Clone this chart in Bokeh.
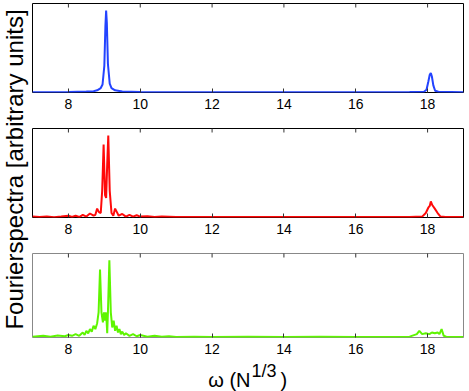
import math
from bokeh.plotting import figure
from bokeh.layouts import row, column
from bokeh.models import LinearAxis, Range1d, FixedTicker, Label
from bokeh.embed import file_html
from bokeh.resources import INLINE

omega_blue = [7.0, 8.0, 8.5, 8.7, 8.8, 8.9, 8.95, 9.0, 9.03, 9.05, 9.07, 9.1, 9.15, 9.2, 9.3, 9.5,
              10.0, 12.0, 15.0, 17.5, 17.9, 17.97, 18.02, 18.06, 18.09, 18.12, 18.16, 18.21, 18.3, 19.0]
blue = [0.004, 0.006, 0.01, 0.015, 0.025, 0.05, 0.09, 0.3, 0.75, 0.92, 0.78, 0.32, 0.1, 0.05, 0.025, 0.012,
        0.006, 0.004, 0.004, 0.005, 0.008, 0.03, 0.12, 0.2, 0.22, 0.18, 0.08, 0.02, 0.008, 0.004]

omega_red = [7.0, 7.2, 7.4, 7.6, 7.8, 8.0, 8.1, 8.2, 8.3, 8.4, 8.5, 8.6, 8.7, 8.75, 8.8, 8.85, 8.9, 8.94,
             8.98, 9.02, 9.05, 9.08, 9.11, 9.15, 9.2, 9.25, 9.3, 9.35, 9.4, 9.5, 9.6, 9.7, 9.8, 9.9, 10.0,
             10.2, 10.4, 10.6, 11.0, 12.0, 14.0, 16.0, 17.5, 17.85, 17.95, 18.02, 18.06, 18.09, 18.13, 18.2,
             18.28, 18.36, 18.5, 19.0]
red = [0.01, 0.005, 0.012, 0.004, 0.01, 0.02, 0.005, 0.02, 0.005, 0.03, 0.01, 0.045, 0.02, 0.03, 0.1, 0.06,
       0.05, 0.3, 0.82, 0.25, 0.22, 0.6, 0.92, 0.3, 0.05, 0.02, 0.1, 0.06, 0.02, 0.04, 0.01, 0.03, 0.01, 0.025,
       0.01, 0.015, 0.005, 0.01, 0.005, 0.005, 0.005, 0.005, 0.005, 0.01, 0.05, 0.11, 0.13, 0.18, 0.14, 0.1,
       0.05, 0.01, 0.005, 0.005]

omega_green = [7.0, 7.3, 7.5, 7.7, 7.9, 8.0, 8.1, 8.2, 8.3, 8.4, 8.45, 8.5, 8.55, 8.6, 8.65, 8.7, 8.75, 8.8,
               8.84, 8.88, 8.92, 8.96, 8.99, 9.02, 9.04, 9.06, 9.08, 9.1, 9.14, 9.18, 9.22, 9.26, 9.3, 9.34,
               9.38, 9.42, 9.46, 9.5, 9.55, 9.6, 9.7, 9.8, 9.9, 10.0, 10.2, 10.4, 10.6, 10.8, 11.0, 11.5, 12.0,
               13.0, 14.0, 15.0, 16.0, 17.0, 17.5, 17.7, 17.77, 17.85, 17.95, 18.05, 18.12, 18.2, 18.28, 18.33,
               18.39, 18.45, 18.52, 18.7, 19.0]
green = [0.01, 0.02, 0.01, 0.025, 0.015, 0.03, 0.02, 0.04, 0.02, 0.06, 0.03, 0.08, 0.05, 0.1, 0.07, 0.14, 0.1,
         0.17, 0.3, 0.81, 0.3, 0.18, 0.3, 0.2, 0.3, 0.22, 0.05, 0.3, 0.92, 0.3, 0.12, 0.2, 0.08, 0.14, 0.06, 0.1,
         0.04, 0.07, 0.03, 0.05, 0.02, 0.04, 0.015, 0.03, 0.01, 0.02, 0.008, 0.015, 0.005, 0.01, 0.005, 0.01,
         0.005, 0.008, 0.005, 0.005, 0.01, 0.04, 0.08, 0.04, 0.05, 0.04, 0.06, 0.05, 0.06, 0.04, 0.1, 0.02, 0.01,
         0.005, 0.005]

x_ticks = [8, 10, 12, 14, 16, 18]
y_label = "Fourierspectra [arbitrary units]"
x_label_main = "ω (N"
x_label_sup = "1/3"
x_label_end = ")"
FONT = "Liberation Sans"
FRAME_W = 431


def panel(xs, ys, color, frame_h, border_top, border_bottom, outline="black"):
    p = figure(frame_width=FRAME_W, frame_height=frame_h, x_range=Range1d(7, 19), y_range=Range1d(0, 1),
               output_backend="svg", toolbar_location=None, x_axis_location=None, y_axis_location=None,
               min_border_left=0, min_border_right=2, min_border_top=border_top,
               min_border_bottom=border_bottom)
    p.grid.visible = False
    p.outline_line_color = outline
    p.outline_line_width = 1
    p.background_fill_color = "white"
    p.border_fill_color = "white"
    ax = LinearAxis(ticker=FixedTicker(ticks=x_ticks))
    ax.major_tick_in = 4
    ax.major_tick_out = 0
    ax.minor_tick_line_color = None
    ax.axis_line_color = None
    ax.major_tick_line_color = "#333333"
    ax.major_label_text_font_size = "14px"
    ax.major_label_text_font = FONT
    ax.major_label_text_color = "black"
    ax.major_label_standoff = 6
    p.add_layout(ax, "below")
    # inward ticks on the top edge (Matlab box style)
    p.scatter(x=x_ticks, y=[1] * len(x_ticks), marker="dash", angle=math.pi / 2, size=8,
              line_color="#333333", line_width=1)
    p.line(xs, ys, line_color=color, line_width=2)
    return p


f1 = panel(omega_blue, blue, "#2343ff", 89, 3, 34)
f2 = panel(omega_red, red, "#ff0a0a", 89, 2, 34)
f3 = panel(omega_green, green, "#5ef500", 84, 2, 23, outline="#888888")

xl = figure(width=FRAME_W + 2, height=32, x_range=Range1d(7, 19), y_range=Range1d(0, 32),
            output_backend="svg", toolbar_location=None, x_axis_location=None, y_axis_location=None,
            min_border=0)
xl.outline_line_color = None
xl.grid.visible = False
xl.add_layout(Label(x=218, y=13, x_units="screen", y_units="screen", text=x_label_main,
                    text_align="right", text_baseline="middle",
                    text_font=FONT, text_font_size="20px", text_color="black"))
xl.add_layout(Label(x=219, y=22, x_units="screen", y_units="screen", text=x_label_sup,
                    text_align="left", text_baseline="middle",
                    text_font=FONT, text_font_size="18px", text_color="black"))
xl.add_layout(Label(x=248, y=13, x_units="screen", y_units="screen", text=x_label_end,
                    text_align="left", text_baseline="middle",
                    text_font=FONT, text_font_size="20px", text_color="black"))

lab = figure(width=32, height=389, output_backend="svg", toolbar_location=None,
             x_axis_location=None, y_axis_location=None, min_border=0,
             x_range=Range1d(0, 1), y_range=Range1d(0, 1))
lab.outline_line_color = None
lab.grid.visible = False
lab.add_layout(Label(x=14, y=220, x_units="screen", y_units="screen", text=y_label, angle=math.pi / 2,
                     text_align="center", text_baseline="middle", text_font=FONT, text_font_size="24px",
                     text_color="black"))

layout = row(lab, column(f1, f2, f3, xl, spacing=0), spacing=0)
open("out.html", "w").write(file_html(layout, INLINE))
